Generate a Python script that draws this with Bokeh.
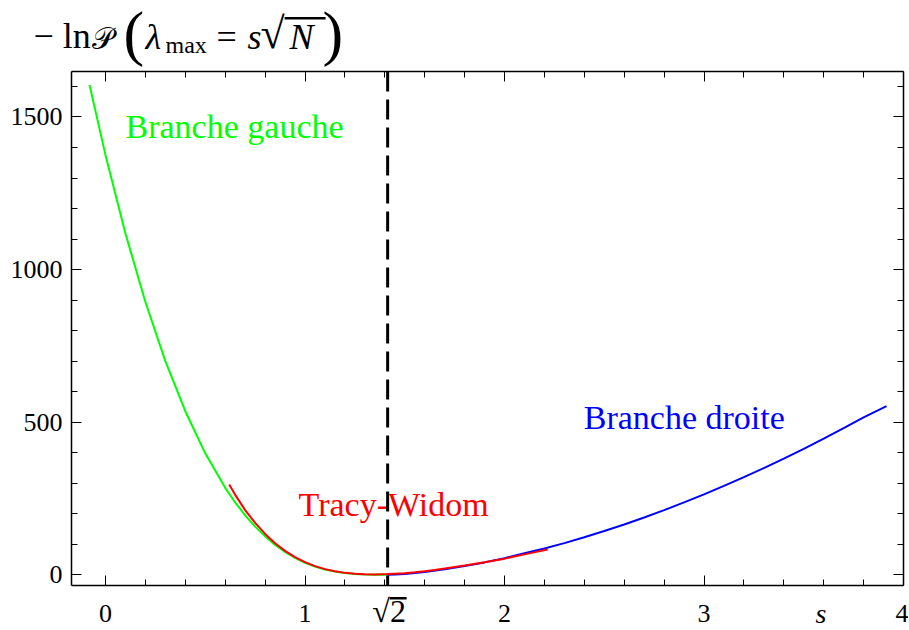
import math
from bokeh.plotting import figure
from bokeh.layouts import column
from bokeh.models import (Range1d, LinearAxis, FixedTicker, Label, Span,
                          BoxAnnotation, CustomJSTickFormatter)
from bokeh.embed import file_html
from bokeh.resources import INLINE

# ---------------- data ----------------
s_gauche = [-0.08, 0.0, 0.1, 0.2, 0.3, 0.4, 0.5, 0.6, 0.65, 0.7, 0.75, 0.8,
            0.85, 0.9, 0.95, 1.0, 1.05, 1.1, 1.15, 1.2, 1.25, 1.3, 1.35, 1.4142]
v_gauche = [1605, 1375, 1118, 894, 700, 536, 398, 285, 237, 195, 158, 126,
            98, 75, 55.4, 39.6, 27.1, 17.5, 10.5, 5.6, 2.6, 0.9, 0.2, 0]

s_droite = [1.4142, 1.45, 1.5, 1.6, 1.7, 1.8, 1.9, 2.0, 2.1, 2.2, 2.3, 2.4,
            2.5, 2.6, 2.7, 2.8, 2.9, 3.0, 3.1, 3.2, 3.3, 3.4, 3.5, 3.6, 3.7,
            3.8, 3.915]
v_droite = [0, 0.8, 2.9, 9.3, 18.0, 28.5, 40.7, 54.4, 70.9, 86.0, 103.9, 123.0,
            143.4, 165.0, 187.9, 212.0, 237.2, 263.6, 291.2, 319.9, 349.7, 380.7,
            412.8, 446.0, 480.3, 515.7, 553]

s_tw = [0.62, 0.65, 0.7, 0.75, 0.8, 0.85, 0.9, 0.95, 1.0, 1.05, 1.1, 1.15,
        1.2, 1.25, 1.3, 1.35, 1.4142, 1.45, 1.5, 1.55, 1.6, 1.65, 1.7, 1.8,
        1.9, 2.0, 2.1, 2.216]
v_tw = [296, 262, 212, 170, 134, 103.6, 78.5, 58, 41.6, 28.6, 18.7, 11.5,
        6.4, 3.3, 1.6, 1.2, 2.5, 3.8, 5.5, 8.5, 12, 16, 20.5, 30.5,
        41.5, 53, 67, 83]

sqrt2 = 1.4142135623730951

x_major = [0, 1, 2, 3, 4]
x_minor = [0.2, 0.4, 0.6, 0.8, 1.2, 1.4, 1.6, 1.8, 2.2, 2.4, 2.6, 2.8,
           3.2, 3.4, 3.6, 3.8]
y_major = [0, 500, 1000, 1500]
y_minor = [100, 200, 300, 400, 600, 700, 800, 900, 1100, 1200, 1300, 1400, 1600]

FONT = "Liberation Serif"
W, H = 908, 629

# ---------------- main figure ----------------
xr = Range1d(-0.1705, 4.0)
p = figure(width=W, height=H,
           x_range=xr, y_range=Range1d(-35, 1649),
           output_backend="svg", toolbar_location=None,
           x_axis_type=None, y_axis_type=None,
           min_border_left=71, min_border_right=5,
           min_border_top=71, min_border_bottom=44)
p.outline_line_color = None
p.background_fill_color = "white"
p.border_fill_color = "white"


def make_axis(ticks, minor, labels, standoff):
    ax = LinearAxis(ticker=FixedTicker(ticks=ticks, minor_ticks=minor))
    ax.major_tick_in = 10
    ax.major_tick_out = 0
    ax.minor_tick_in = 6
    ax.minor_tick_out = 0
    ax.axis_line_color = "black"
    ax.axis_line_width = 1.5
    ax.major_tick_line_color = "black"
    ax.minor_tick_line_color = "black"
    ax.major_tick_line_width = 1
    ax.minor_tick_line_width = 1
    ax.major_label_text_font = FONT
    ax.major_label_text_font_size = "26px"
    ax.major_label_text_color = "black"
    ax.major_label_standoff = standoff
    if not labels:
        ax.formatter = CustomJSTickFormatter(code="return ''")
        ax.major_label_standoff = 0
        ax.major_label_text_font_size = "0px"
    return ax


p.add_layout(make_axis(x_major, x_minor, True, 19), "below")
p.add_layout(make_axis(y_major, y_minor, True, 9), "left")
p.add_layout(make_axis(x_major, x_minor, False, 0), "above")
p.add_layout(make_axis(y_major, y_minor, False, 0), "right")

# curves
p.line(s_gauche, v_gauche, line_color="#00ff00", line_width=2)
p.line(s_droite, v_droite, line_color="#0000ff", line_width=2)
p.line(s_tw, v_tw, line_color="#ff0000", line_width=2)


def X(px):
    return (px - 105.0) / 199.4


def Y(py):
    return (574.3 - py) / 0.3052


def lab(text, px, py_mid, size, color="black", style="normal", align="left"):
    p.add_layout(Label(x=X(px), y=Y(py_mid), text=text, text_font=FONT,
                       text_font_size=size, text_color=color,
                       text_font_style=style, text_align=align,
                       text_baseline="middle"))


lab("Branche gauche", 125, 126, "34px", "#00ff00")
lab("Branche droite", 583, 417, "34px", "#0000ff")
lab("Tracy-Widom", 298, 504, "34px", "#ff0000")

# start of the title, left of the frame: placed in the top side panel
p.add_layout(Label(x=X(33), y=Y(36), text="\u2212 ln", text_font=FONT,
                   text_font_size="36px", text_color="black",
                   text_align="left", text_baseline="middle"), "above")

# dashed vertical line at sqrt(2)
p.add_layout(Span(location=sqrt2, dimension="height", line_color="black",
                  line_width=3, line_dash="20 8"))

# ---------------- transparent overlay for the other texts outside the frame ----------------
ov = figure(width=W, height=H, x_range=xr, y_range=Range1d(H, 0),
            output_backend="svg", toolbar_location=None,
            x_axis_type=None, y_axis_type=None, min_border=0,
            margin=(-H, 0, 0, 0))
ov.outline_line_color = None
ov.background_fill_alpha = 0
ov.border_fill_alpha = 0


def olab(text, px, py_mid, size, style="normal", align="left"):
    ov.add_layout(Label(x=X(px), y=py_mid, text=text, text_font=FONT,
                        text_font_size=size, text_color="black",
                        text_font_style=style, text_align=align,
                        text_baseline="middle"))


def obar(x0, x1, y0, y1):
    ov.add_layout(BoxAnnotation(left=X(x0), right=X(x1), top=y0, bottom=y1,
                                fill_color="black", fill_alpha=1,
                                line_color=None))


# rest of the title: P (lambda_max = s sqrt(N))
olab("\U0001D4AB", 91, 38, "30px")
olab("(", 123, 32, "62px")
olab("\u03bb", 145, 36, "36px", style="italic")
olab("max", 165, 44, "24px")
olab("=", 216, 36, "36px")
olab("s", 247, 36, "36px", style="italic")
olab("\u221a", 260, 33, "44px")
olab("N", 289, 36, "36px", style="italic")
olab(")", 322, 32, "62px")
obar(284, 325, 16.5, 19)

# sqrt(2) label under the axis and the axis variable s
olab("\u221a2", 388.5, 610.4, "32px", align="center")
obar(389, 406, 596.5, 599)
olab("s", 820, 612.8, "28px", style="italic", align="center")

layout = column(p, ov, spacing=0)
open("out.html", "w").write(file_html(layout, INLINE))
